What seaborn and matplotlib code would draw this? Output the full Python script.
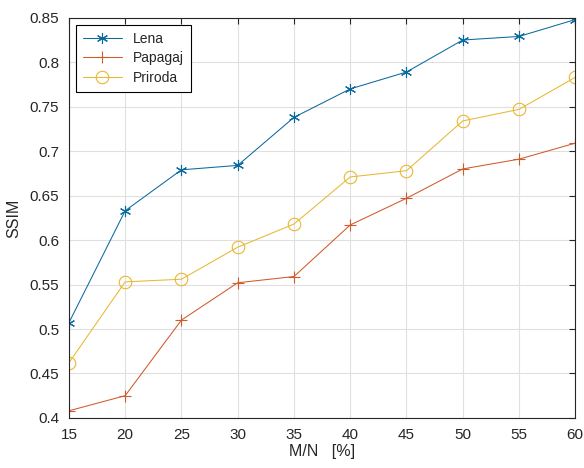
import pandas as pd
import matplotlib.pyplot as plt
import seaborn as sns

# values
ratio = [15, 20, 25, 30, 35, 40, 45, 50, 55, 60]
lena = [0.507, 0.633, 0.679, 0.684, 0.738, 0.770, 0.789, 0.825, 0.829, 0.848]
papagaj = [0.408, 0.425, 0.510, 0.552, 0.559, 0.617, 0.647, 0.680, 0.691, 0.709]
priroda = [0.462, 0.553, 0.556, 0.592, 0.618, 0.671, 0.678, 0.734, 0.747, 0.783]
names = ['Lena', 'Papagaj', 'Priroda']

df = pd.DataFrame({'ratio': ratio * 3,
                   'ssim': lena + papagaj + priroda,
                   'image': [n for n in names for _ in ratio]})

sns.set_style('white')
plt.rcParams['font.family'] = ['Liberation Sans', 'DejaVu Sans']

fig = plt.figure(figsize=(5.84, 4.68), dpi=100)
ax = fig.add_axes([0.118, 0.107, 0.867, 0.855])

colors = {'Lena': '#0a6a9e', 'Papagaj': '#cf5a2a', 'Priroda': '#e8b830'}
markers = {'Lena': (6, 2, 0), 'Papagaj': '+', 'Priroda': 'o'}

for n in names:
    sub = df[df['image'] == n]
    sns.lineplot(data=sub, x='ratio', y='ssim', ax=ax, color=colors[n],
                 marker=markers[n], markersize=8 if n != 'Priroda' else 9,
                 markerfacecolor='none', markeredgecolor=colors[n],
                 markeredgewidth=0.8, linewidth=0.75, label=n)

ax.set_xlim(15, 60)
ax.set_ylim(0.4, 0.85)
ax.set_xticks(ratio)
yt = [0.4, 0.45, 0.5, 0.55, 0.6, 0.65, 0.7, 0.75, 0.8, 0.85]
ax.set_yticks(yt)
ax.set_yticklabels([('%g' % v) for v in yt])
ax.grid(True, color='#e0e0e0', linewidth=0.8)
ax.tick_params(axis='x', pad=7)
ax.tick_params(axis='y', pad=7)
ax.tick_params(direction='in', top=True, right=True, labelsize=11,
               colors='#262626', length=4, width=0.8)
for s in ax.spines.values():
    s.set_color('#262626')
    s.set_linewidth(0.8)

ax.set_xlabel('M/N   [%]', fontsize=11.5, color='#262626', labelpad=2)
ax.set_ylabel('SSIM', fontsize=11.5, color='#262626', labelpad=6)

leg = ax.legend(loc='upper left', fontsize=10, frameon=True, fancybox=False,
                edgecolor='black', framealpha=1, handlelength=2.8,
                borderaxespad=0.5, labelspacing=0.4, borderpad=0.5)
leg.get_frame().set_linewidth(0.8)

plt.savefig('out.png', dpi=100)
